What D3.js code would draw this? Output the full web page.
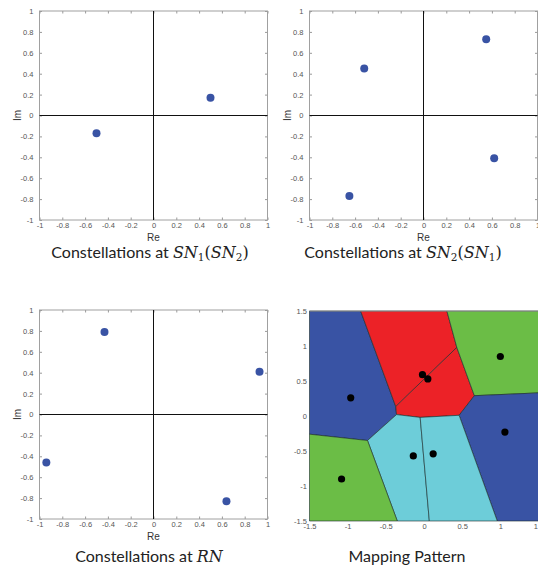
<html>
<script src="https://d3js.org/d3.v7.min.js"></script>
<body style="margin:0;background:#fff">
</body>
<script>
let sn1Re = [0.5, -0.5];
let sn1Im = [0.17, -0.17];
let sn2Re = [0.55, -0.52, 0.62, -0.65];
let sn2Im = [0.73, 0.45, -0.41, -0.77];
let rnRe = [-0.43, 0.93, -0.94, 0.64];
let rnIm = [0.79, 0.41, -0.46, -0.83];

let constTicks = [-1, -0.8, -0.6, -0.4, -0.2, 0, 0.2, 0.4, 0.6, 0.8, 1];
let mapTicks = [-1.5, -1, -0.5, 0, 0.5, 1, 1.5];

// mapping pattern: black dots and the coloured decision regions
let mapX = [1.0, -0.96, -0.02, 0.05, 1.06, -0.14, 0.12, -1.08];
let mapY = [0.85, 0.26, 0.59, 0.53, -0.23, -0.57, -0.54, -0.9];
let regionColor = ["#3953a4", "#ec2227", "#ec2227", "#6bbd46", "#3953a4", "#6dcdd9", "#6dcdd9", "#6bbd46"];
let regionPts = [
    [[-1.5, 1.5], [-0.83, 1.5], [-0.37, 0.135], [-0.36, 0.02], [-0.74, -0.35], [-1.5, -0.26]],
    [[-0.83, 1.5], [0.30, 1.5], [0.43, 0.98], [-0.37, 0.135]],
    [[-0.37, 0.135], [0.43, 0.98], [0.66, 0.29], [0.46, 0.01], [-0.05, -0.02], [-0.36, 0.02]],
    [[0.30, 1.5], [1.5, 1.5], [1.5, 0.33], [0.66, 0.29], [0.43, 0.98]],
    [[0.66, 0.29], [1.5, 0.33], [1.5, -1.5], [0.96, -1.5], [0.46, 0.01]],
    [[-0.36, 0.02], [-0.05, -0.02], [0.07, -1.5], [-0.35, -1.5], [-0.74, -0.35]],
    [[-0.05, -0.02], [0.46, 0.01], [0.96, -1.5], [0.07, -1.5]],
    [[-1.5, -0.26], [-0.74, -0.35], [-0.35, -1.5], [-1.5, -1.5]]
];

let width = 538;
let height = 572;
let pw = 228, ph = 209;
let tickFont = "Liberation Sans, Arial, sans-serif";
let capFont = "Lato, 'Open Sans', sans-serif";
let mathFont = "'DejaVu Serif', serif";

let svg = d3.select("body").append("svg")
    .attr("width", width)
    .attr("height", height);

function drawAxes(g, x, y, ticks, tickLen) {
    let xa = d3.axisBottom(x).tickValues(ticks).tickSize(-tickLen).tickSizeOuter(0).tickPadding(3).tickFormat(d => String(d));
    let ya = d3.axisLeft(y).tickValues(ticks).tickSize(-tickLen).tickSizeOuter(0).tickPadding(tickLen > 0 ? 6 : 3).tickFormat(d => String(d));
    let gx = g.append("g").attr("transform", "translate(0," + ph + ")").call(xa);
    let gy = g.append("g").call(ya);
    [gx, gy].forEach(a => {
        a.select(".domain").remove();
        a.selectAll("line").attr("stroke", "#999");
        a.selectAll("text").attr("fill", "#555").style("font-family", tickFont).style("font-size", "7.5px");
    });
    if (tickLen > 0) {
        // mirrored ticks on top and right (box on)
        g.append("g").call(d3.axisTop(x).tickValues(ticks).tickSize(-tickLen).tickSizeOuter(0).tickFormat(""))
            .call(a => a.select(".domain").remove()).selectAll("line").attr("stroke", "#999");
        g.append("g").attr("transform", "translate(" + pw + ",0)")
            .call(d3.axisRight(y).tickValues(ticks).tickSize(-tickLen).tickSizeOuter(0).tickFormat(""))
            .call(a => a.select(".domain").remove()).selectAll("line").attr("stroke", "#999");
    }
    g.append("rect")
        .attr("width", pw).attr("height", ph)
        .attr("fill", "none").attr("stroke", "#a0a0a0").attr("stroke-width", 1);
}

function caption(cx, cy, parts) {
    let t = svg.append("text")
        .attr("x", cx).attr("y", cy)
        .attr("text-anchor", "middle")
        .style("font-size", "16px")
        .attr("fill", "#222");
    parts.forEach(p => {
        let s = t.append("tspan").text(p[0]);
        if (p[1] == "m") s.style("font-family", mathFont).style("font-style", "italic");
        else if (p[1] == "sub") s.style("font-family", mathFont).style("font-size", "10.5px").attr("dy", 3);
        else if (p[1] == "paren") s.style("font-family", mathFont).attr("dy", p[2] || 0);
        else s.style("font-family", capFont).attr("dy", p[2] || 0);
    });
}

function constellation(ox, oy, re, im) {
    let g = svg.append("g").attr("transform", "translate(" + ox + "," + oy + ")");
    let x = d3.scaleLinear().domain([-1, 1]).range([0, pw]);
    let y = d3.scaleLinear().domain([-1, 1]).range([ph, 0]);
    drawAxes(g, x, y, constTicks, 2.5);
    g.append("line").attr("x1", x(-1)).attr("x2", x(1)).attr("y1", y(0)).attr("y2", y(0)).attr("stroke", "#111");
    g.append("line").attr("x1", x(0)).attr("x2", x(0)).attr("y1", y(-1)).attr("y2", y(1)).attr("stroke", "#111");
    g.selectAll(".pt")
        .data(re.map((r, i) => [r, im[i]]))
        .join("circle")
        .attr("class", "pt")
        .attr("cx", d => x(d[0]))
        .attr("cy", d => y(d[1]))
        .attr("r", 4)
        .attr("fill", "#3953a4");
    g.append("text").attr("x", pw / 2).attr("y", ph + 21).attr("text-anchor", "middle")
        .style("font-family", tickFont).style("font-size", "10px").attr("fill", "#333").text("Re");
    g.append("text").attr("transform", "translate(-19," + (ph / 2) + ") rotate(-90)").attr("text-anchor", "middle")
        .style("font-family", tickFont).style("font-size", "10px").attr("fill", "#333").text("Im");
}

constellation(39.5, 11, sn1Re, sn1Im);
constellation(309.5, 11, sn2Re, sn2Im);
constellation(39.5, 310, rnRe, rnIm);

// mapping pattern
let g4 = svg.append("g").attr("transform", "translate(309.5,311)");
let mx = d3.scaleLinear().domain([-1.5, 1.5]).range([0, 229]);
let my = d3.scaleLinear().domain([-1.5, 1.5]).range([ph + 1, 0]);
let line = d3.line().x(d => mx(d[0])).y(d => my(d[1]));
g4.selectAll(".region")
    .data(regionPts)
    .join("path")
    .attr("class", "region")
    .attr("d", d => line(d) + "Z")
    .attr("fill", (d, i) => regionColor[i])
    .attr("stroke", "#1a2a2a")
    .attr("stroke-width", 0.6)
    .attr("stroke-linejoin", "round");
g4.selectAll(".dot")
    .data(mapX.map((v, i) => [v, mapY[i]]))
    .join("circle")
    .attr("class", "dot")
    .attr("cx", d => mx(d[0]))
    .attr("cy", d => my(d[1]))
    .attr("r", 3.6)
    .attr("fill", "#000");
let ax4 = g4.append("g").attr("transform", "translate(0," + (ph + 1) + ")")
    .call(d3.axisBottom(mx).tickValues(mapTicks).tickSize(0).tickPadding(3).tickFormat(d => String(d)));
let ay4 = g4.append("g")
    .call(d3.axisLeft(my).tickValues(mapTicks).tickSize(0).tickPadding(2.5).tickFormat(d => String(d)));
[ax4, ay4].forEach(a => {
    a.select(".domain").remove();
    a.selectAll("text").attr("fill", "#555").style("font-family", tickFont).style("font-size", "7.5px");
});
g4.append("line").attr("x1", 0).attr("x2", 229).attr("y1", 0).attr("y2", 0).attr("stroke", "#999");

caption(150, 258, [["Constellations at "], ["SN", "m"], ["1", "sub"], ["(", "paren", -3], ["SN", "m"], ["2", "sub"], [")", "paren", -3]]);
caption(403, 258, [["Constellations at "], ["SN", "m"], ["2", "sub"], ["(", "paren", -3], ["SN", "m"], ["1", "sub"], [")", "paren", -3]]);
caption(149, 562, [["Constellations at "], ["RN", "m"]]);
caption(407, 562, [["Mapping Pattern"]]);
</script>
</html>
